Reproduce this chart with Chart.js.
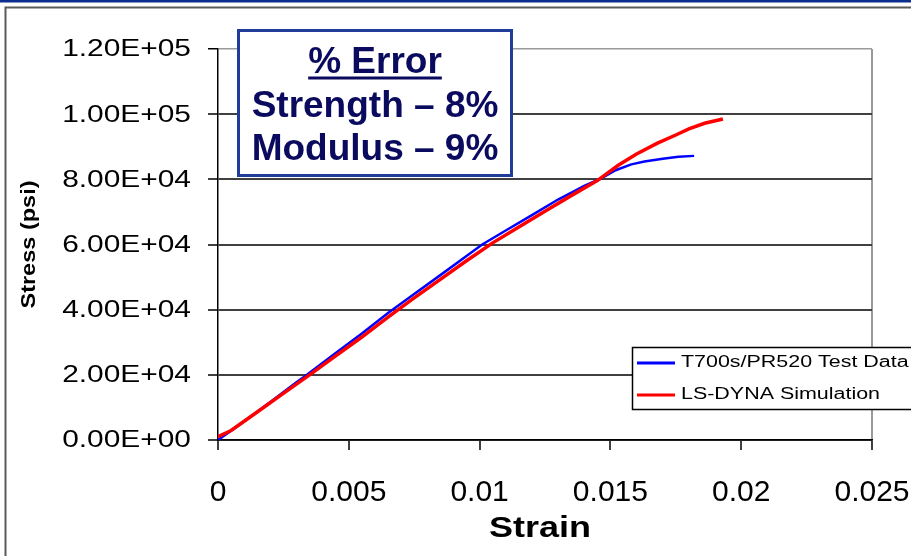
<!DOCTYPE html>
<html>
<head>
<meta charset="utf-8">
<script src="https://cdn.jsdelivr.net/npm/chart.js@4.4.1/dist/chart.umd.min.js"></script>
<style>
body { margin: 0; background: #fff; }
#wrap { position: relative; width: 911px; height: 556px; }
</style>
</head>
<body>
<div id="wrap"><canvas id="chart" width="911" height="556"></canvas></div>
<script>
// values
var strainTest = [0, 0.001, 0.002, 0.003, 0.0034, 0.0045, 0.0055, 0.0065, 0.0075, 0.0085, 0.0095, 0.0101, 0.011, 0.012, 0.013, 0.014, 0.0146, 0.0152, 0.0158, 0.0163, 0.017, 0.0176, 0.0182];
var stressTest = [0, 5700, 11700, 17700, 20000, 26700, 32700, 39000, 44800, 50600, 56500, 60000, 64300, 69000, 73800, 78000, 80100, 82800, 84600, 85500, 86300, 86900, 87200];
var strainSim = [0, 0.0005, 0.0015, 0.0025, 0.0035, 0.0045, 0.0055, 0.0065, 0.0075, 0.0085, 0.0095, 0.0105, 0.0115, 0.0125, 0.0135, 0.0145, 0.0153, 0.016, 0.0168, 0.0175, 0.018, 0.0186, 0.0193];
var stressSim = [1000, 2900, 8600, 14300, 20000, 25800, 31600, 37700, 43600, 49300, 55000, 60500, 65400, 70200, 75000, 79600, 84300, 87800, 91100, 93600, 95500, 97200, 98500];

var xTickLabels = ['0', '0.005', '0.01', '0.015', '0.02', '0.025'];
var yTickLabels = ['0.00E+00', '2.00E+04', '4.00E+04', '6.00E+04', '8.00E+04', '1.00E+05', '1.20E+05'];
var seriesNames = ['T700s/PR520 Test Data', 'LS-DYNA Simulation'];
var seriesColors = ['#0000ff', '#ff0000'];
var xTitle = 'Strain';
var yTitle = 'Stress (psi)';
var boxLines = ['% Error', 'Strength \u2013 8%', 'Modulus \u2013 9%'];

function toPoints(xs, ys) {
    return xs.map(function (x, i) { return { x: x, y: ys[i] }; });
}

// text squeezed/stretched along its own direction
function stretchText(ctx, text, x, y, sx, align, base) {
    ctx.save();
    ctx.translate(x, y);
    ctx.scale(sx, 1);
    ctx.textAlign = align;
    ctx.textBaseline = base;
    ctx.fillText(text, 0, 0);
    ctx.restore();
}

var framePlugin = {
    id: 'frame',
    beforeDraw: function (chart) {
        let ctx = chart.ctx;
        ctx.save();
        ctx.fillStyle = '#fff';
        ctx.fillRect(0, 0, 911, 556);
        ctx.fillStyle = '#0b2e8e';
        ctx.fillRect(0, 0, 911, 2.5);
        ctx.strokeStyle = '#5a5a5a';
        ctx.lineWidth = 2;
        ctx.beginPath();
        ctx.moveTo(5.5, 556);
        ctx.lineTo(5.5, 7.5);
        ctx.lineTo(911, 7.5);
        ctx.stroke();
        ctx.restore();
    },
    afterDraw: function (chart) {
        let ctx = chart.ctx;
        let xs = chart.scales.x, ys = chart.scales.y;
        ctx.save();
        ctx.fillStyle = '#000';

        // tick labels
        ctx.font = '23px Arial, "Liberation Sans", sans-serif';
        ys.ticks.forEach(function (t, i) {
            stretchText(ctx, yTickLabels[i], 191, ys.getPixelForValue(t.value) + 1, 1.3, 'right', 'middle');
        });
        ctx.font = '30px Arial, "Liberation Sans", sans-serif';
        xs.ticks.forEach(function (t, i) {
            stretchText(ctx, xTickLabels[i], xs.getPixelForValue(t.value), 501, 1.0, 'center', 'alphabetic');
        });

        // axis titles
        ctx.font = 'bold 30px Arial, "Liberation Sans", sans-serif';
        stretchText(ctx, xTitle, 540, 537, 1.2, 'center', 'alphabetic');
        ctx.save();
        ctx.translate(29, (ys.top + ys.bottom) / 2);
        ctx.rotate(-Math.PI / 2);
        ctx.font = 'bold 21px Arial, "Liberation Sans", sans-serif';
        stretchText(ctx, yTitle, 0, 0, 1.12, 'center', 'middle');
        ctx.restore();

        // error box
        ctx.fillStyle = '#fff';
        ctx.fillRect(238.5, 30.5, 273, 145);
        ctx.strokeStyle = '#1f3d99';
        ctx.lineWidth = 3;
        ctx.strokeRect(238.5, 30.5, 273, 145);
        ctx.fillStyle = '#0a0a5e';
        ctx.font = 'bold 37px Arial, "Liberation Sans", sans-serif';
        ctx.textAlign = 'center';
        ctx.textBaseline = 'alphabetic';
        let baselines = [73, 117, 160];
        boxLines.forEach(function (line, i) {
            ctx.fillText(line, 375, baselines[i]);
        });
        let w = ctx.measureText(boxLines[0]).width;
        ctx.fillRect(375 - w / 2, 76.5, w, 3);

        // legend
        ctx.fillStyle = '#fff';
        ctx.fillRect(632.5, 347.5, 290, 62);
        ctx.strokeStyle = '#000';
        ctx.lineWidth = 1.5;
        ctx.strokeRect(632.5, 347.5, 290, 62);
        let rows = [363, 395];
        ctx.font = '16px Arial, "Liberation Sans", sans-serif';
        seriesNames.forEach(function (name, i) {
            ctx.strokeStyle = seriesColors[i];
            ctx.lineWidth = 3;
            ctx.beginPath();
            ctx.moveTo(637, rows[i]);
            ctx.lineTo(675, rows[i]);
            ctx.stroke();
            ctx.fillStyle = '#000';
            stretchText(ctx, name, 681, rows[i], 1.34, 'left', 'middle');
        });
        ctx.restore();
    }
};

var chartConfig = {
    type: 'scatter',
    data: {
        datasets: [
            {
                label: seriesNames[0],
                data: toPoints(strainTest, stressTest),
                showLine: true,
                borderColor: seriesColors[0],
                borderWidth: 2.5,
                pointRadius: 0,
                tension: 0,
                order: 1
            },
            {
                label: seriesNames[1],
                data: toPoints(strainSim, stressSim),
                showLine: true,
                borderColor: seriesColors[1],
                borderWidth: 3.5,
                pointRadius: 0,
                tension: 0,
                order: 0
            }
        ]
    },
    options: {
        responsive: false,
        animation: false,
        layout: { padding: { left: 0, right: 39, top: 49, bottom: 0 } },
        plugins: {
            legend: { display: false },
            tooltip: { enabled: false }
        },
        scales: {
            x: {
                type: 'linear',
                min: 0,
                max: 0.025,
                ticks: { stepSize: 0.005, display: false },
                border: { color: '#000', width: 1.5 },
                grid: {
                    color: function (c) { return c.index === xTickLabels.length - 1 ? '#9a9a9a' : 'rgba(0,0,0,0)'; },
                    lineWidth: 2,
                    tickLength: 10,
                    tickColor: '#000',
                    tickWidth: 1.5
                },
                afterFit: function (scale) { scale.height = 116; }
            },
            y: {
                type: 'linear',
                min: 0,
                max: 120000,
                ticks: { stepSize: 20000, display: false },
                border: { color: '#000', width: 1.5 },
                grid: {
                    color: function (c) { return c.index === yTickLabels.length - 1 ? '#9a9a9a' : '#404040'; },
                    lineWidth: function (c) { return c.index === yTickLabels.length - 1 ? 1.5 : 2; },
                    tickLength: 10,
                    tickColor: '#000',
                    tickWidth: 1.5
                },
                afterFit: function (scale) { scale.width = 218; }
            }
        }
    },
    plugins: [framePlugin]
};

new Chart(document.getElementById('chart'), chartConfig);
</script>
</body>
</html>
